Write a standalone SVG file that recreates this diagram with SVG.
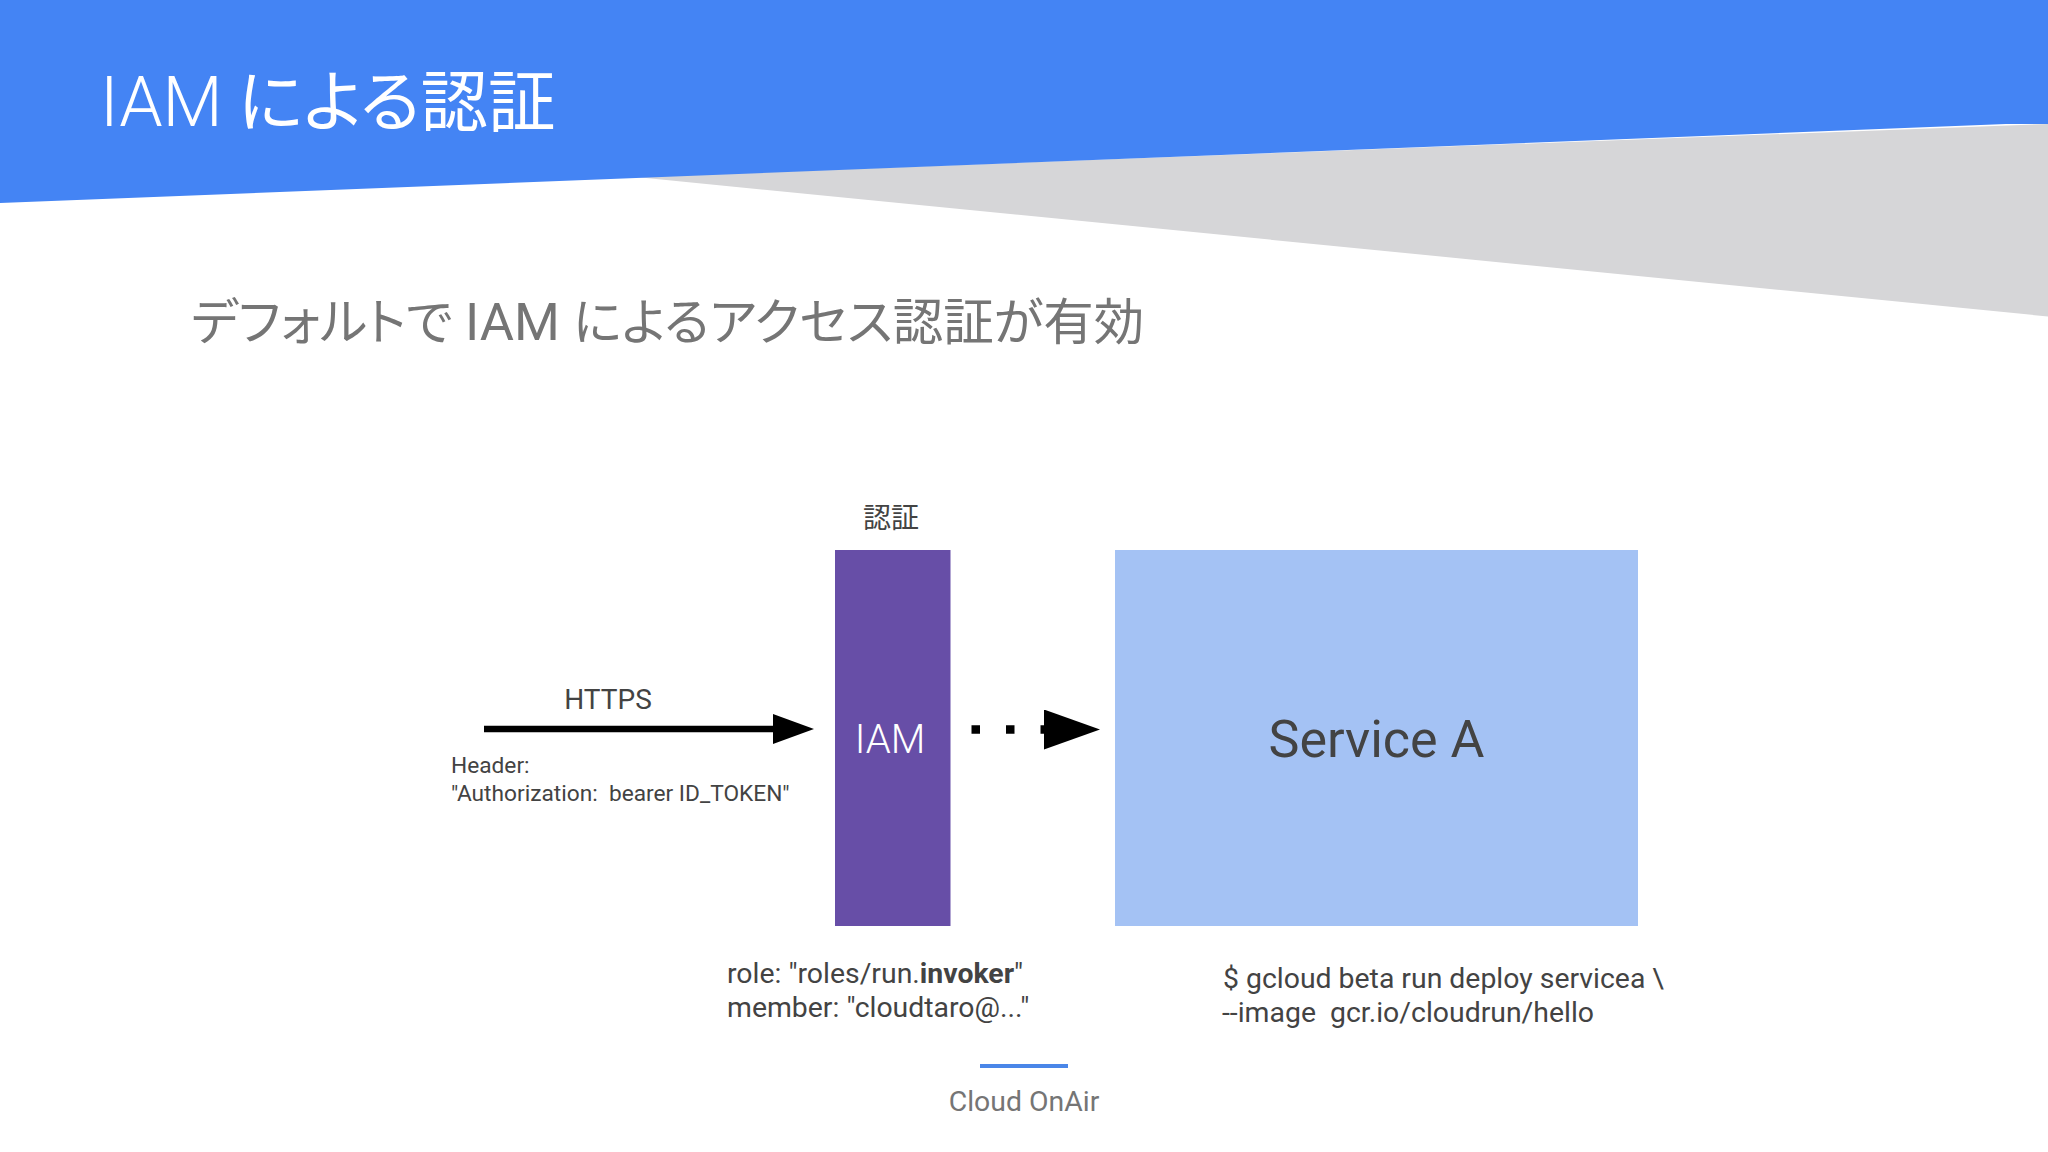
<svg xmlns="http://www.w3.org/2000/svg" width="2048" height="1152" viewBox="0 0 2048 1152">
<defs>
<style>
text{font-family:Roboto,"Noto Sans CJK JP",sans-serif;fill:#434343}
.light{font-weight:300}
.cap{font-size:28.4px}
.small{font-size:22.7px}
.jp{font-family:"Noto Sans CJK JP",sans-serif;font-feature-settings:"palt"}
</style>
<marker id="headA" markerUnits="userSpaceOnUse" markerWidth="41" markerHeight="30" refX="7" refY="15" orient="auto"><polygon points="0,0 41,15 0,30" fill="#000"/></marker>
<marker id="headB" markerUnits="userSpaceOnUse" markerWidth="56" markerHeight="40" refX="16" refY="20" orient="auto"><polygon points="0,0 56,20 0,40" fill="#000"/></marker>
</defs>
<rect width="2048" height="1152" fill="#fff"/>
<polygon points="636,177 2048,124 2048,316.5" fill="#d6d6d8"/>
<polygon points="0,0 2048,0 2048,124 2006,124 0,203" fill="#4484f4"/>
<text y="125.5" font-size="69.5" style="fill:#fff"><tspan x="100" class="light">IAM</tspan><tspan x="238" class="jp" font-size="67.5">による認証</tspan></text>
<text y="340" font-size="50.5" style="fill:#757575"><tspan x="191" class="jp">デフォルトで</tspan><tspan x="465" font-size="52.5">IAM</tspan><tspan x="573" class="jp">によるアクセス認証が有効</tspan></text>
<g id="connectors">
<line x1="484" y1="729" x2="780" y2="729" stroke="#000" stroke-width="6.5" marker-end="url(#headA)"/>
<line x1="971.5" y1="729.5" x2="1060" y2="729.5" stroke="#000" stroke-width="8.5" stroke-dasharray="8.5 26" marker-end="url(#headB)"/>
</g>
<g id="iam">
<rect x="835" y="550" width="115.5" height="376" fill="#674ea7"/>
<text x="890" y="753" font-size="40" text-anchor="middle" style="fill:#fff" class="light">IAM</text>
</g>
<g id="service-a">
<rect x="1115" y="550" width="523" height="376" fill="#a4c2f4"/>
<text x="1376.5" y="757" font-size="52" text-anchor="middle">Service A</text>
</g>
<g id="label-auth"><text x="891" y="528" font-size="28" text-anchor="middle">認証</text></g>
<g id="label-https"><text x="608" y="709" font-size="28" text-anchor="middle">HTTPS</text></g>
<g id="label-header">
<text x="451" y="773" class="small">Header:</text>
<text x="451" y="801" class="small" xml:space="preserve">"Authorization:  bearer ID_TOKEN"</text>
</g>
<g id="label-role">
<text x="727" y="983" class="cap">role: "roles/run.<tspan font-weight="700">invoker</tspan>"</text>
<text x="727" y="1017" class="cap">member: "cloudtaro@..."</text>
</g>
<g id="label-command">
<text x="1223" y="988" class="cap">$ gcloud beta run deploy servicea \</text>
<text x="1222" y="1022" class="cap" xml:space="preserve">--image  gcr.io/cloudrun/hello</text>
</g>
<g id="footer">
<rect x="980" y="1064" width="88" height="4" fill="#4a86e8"/>
<text x="1024" y="1111" font-size="28.4" text-anchor="middle" style="fill:#757575">Cloud OnAir</text>
</g>
</svg>
